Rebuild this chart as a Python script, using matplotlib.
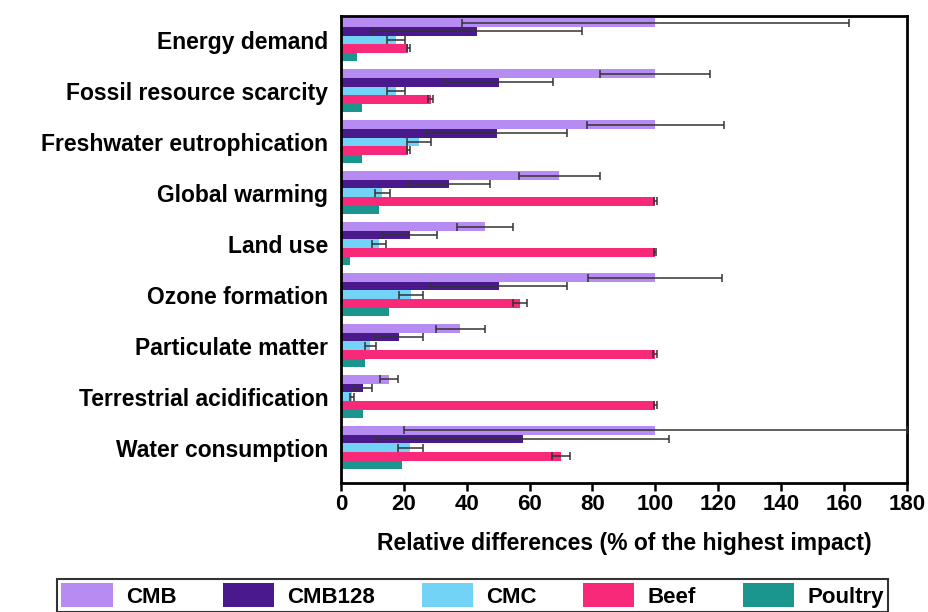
"""Relative differences of environmental impacts, grouped horizontal bars."""

import matplotlib.pyplot as plt
import numpy as np
from matplotlib.patches import Patch

categories = [
    "Energy demand",
    "Fossil resource scarcity",
    "Freshwater eutrophication",
    "Global warming",
    "Land use",
    "Ozone formation",
    "Particulate matter",
    "Terrestrial acidification",
    "Water consumption",
]
series_names = ["CMB", "CMB128", "CMC", "Beef", "Poultry"]

cmb = [100, 100, 100, 69.5, 45.7, 100, 38, 15.3, 100]
cmb_err = [61.5, 17.5, 21.8, 12.8, 8.9, 21.3, 7.7, 3.0, 80]
cmb128 = [43.2, 50.3, 49.6, 34.5, 22.0, 50.2, 18.5, 7.0, 58]
cmb128_err = [33.4, 17.3, 22.2, 12.8, 8.6, 21.7, 7.7, 3.0, 46.5]
cmc = [17.5, 17.5, 24.7, 13.2, 12.0, 22.3, 9.3, 3.6, 22]
cmc_err = [2.8, 2.8, 3.8, 2.4, 2.2, 3.8, 1.8, 0.6, 4.0]
beef = [21.4, 28.5, 21.4, 100, 100, 57, 100, 100, 70]
beef_err = [0.5, 0.7, 0.5, 0.4, 0.3, 2.3, 0.7, 0.5, 2.8]
poultry = [5.0, 6.6, 6.8, 12.2, 2.9, 15.4, 7.5, 6.9, 19.4]

values = [cmb, cmb128, cmc, beef, poultry]
errors = [cmb_err, cmb128_err, cmc_err, beef_err, None]
colors = ["#B68CF2", "#4A1A8C", "#72D3F7", "#F9297A", "#1B968F"]

label_font = "Liberation Sans"

fig = plt.figure(figsize=(9.29, 6.12), dpi=100)
ax = fig.add_axes([0.367, 0.211, 0.609, 0.763])

y = np.arange(len(categories))
pitch = 0.169
for i, (vals, errs, col) in enumerate(zip(values, errors, colors)):
    pos = y + (i - 2) * pitch
    ax.barh(pos, vals, height=pitch, color=col, zorder=2)
    if errs is not None:
        ax.errorbar(vals, pos, xerr=errs, fmt="none", ecolor="#333333",
                    elinewidth=1.1, capsize=3, capthick=1.1, zorder=3)

ax.set_xlim(0, 180)
ax.set_ylim(8.69, -0.47)
ax.set_xticks(np.arange(0, 181, 20))
ax.set_yticks(y)
ax.set_yticklabels(categories, fontfamily=label_font, fontweight="bold",
                   fontsize=16.5)
for lbl in ax.get_xticklabels():
    lbl.set_fontfamily(label_font)
    lbl.set_fontweight("bold")
    lbl.set_fontsize(16)
ax.tick_params(axis="y", length=0, pad=9)
ax.tick_params(axis="x", length=6, width=1.8, pad=2)
for sp in ax.spines.values():
    sp.set_linewidth(2.0)

ax.set_xlabel("Relative differences (% of the highest impact)",
              fontfamily=label_font, fontweight="bold", fontsize=16.5,
              labelpad=12)

handles = [Patch(facecolor=c, edgecolor="none") for c in colors]
leg = fig.legend(handles, series_names, ncol=5, loc="lower left",
                 bbox_to_anchor=(57 / 929, 0.0, (888 - 57) / 929, 0.06),
                 mode="expand", borderaxespad=0, frameon=True, fancybox=False,
                 edgecolor="black", handlelength=2.3, handleheight=1.3,
                 handletextpad=0.6, borderpad=0.2,
                 prop={"family": label_font, "weight": "bold", "size": 16})
leg.get_frame().set_linewidth(1.5)

fig.savefig("out.png", dpi=100)
